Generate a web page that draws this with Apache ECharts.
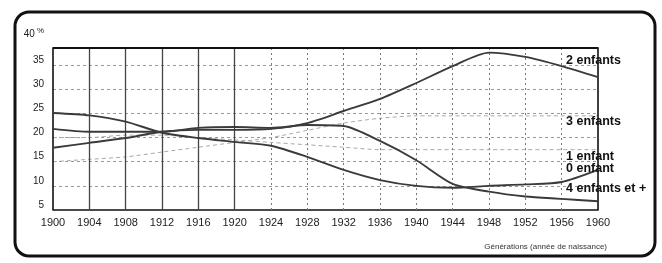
<!DOCTYPE html>
<html><head><meta charset="utf-8">
<script src="https://cdn.jsdelivr.net/npm/echarts@6/dist/echarts.min.js"></script>
<style>html,body{margin:0;padding:0;background:#fff}#c{width:662px;height:263px}</style>
</head><body><div id="c"></div>
<script>
// ---- data ----
const years = [1900,1904,1908,1912,1916,1920,1924,1928,1932,1936,1940,1944,1948,1952,1956,1960];
const zeroChild   = [25.1,24.6,23.3,21.0,19.9,19.1,18.3,16.0,13.3,11.2,10.0,9.6,10.0,10.3,10.8,13.3];
const oneChild    = [20.0,20.0,20.5,20.5,20.0,19.5,19.0,18.5,18.0,17.5,17.5,17.5,17.5,17.5,17.5,17.5];
const twoChildren = [17.9,18.9,19.9,21.2,21.6,21.6,21.8,23.0,25.5,28.0,31.3,34.8,37.6,36.7,34.8,32.5];
const threeChildren = [15.0,15.5,16.0,17.0,18.0,19.0,20.0,21.5,23.0,24.0,24.5,24.5,24.5,24.5,24.5,24.5];
const fourPlus    = [21.8,21.2,21.2,21.2,22.0,22.2,22.0,22.6,22.4,19.3,15.3,10.4,8.8,7.8,7.3,6.8];
const seriesNames = ['0 enfant','1 enfant','2 enfants','3 enfants','4 enfants et +'];
const yTicks = [5,10,15,20,25,30,35,40];
const solidGridYears = [1904,1908,1912,1916,1920];
const dottedGridYears = [1924,1928,1932,1936,1940,1944,1948,1952,1956];
const frameTop = 38.7;
const axisTitle = 'Générations (année de naissance)';

const FONT = 'Liberation Sans, Arial, sans-serif';
const pairs = arr => years.map((y, i) => [y, arr[i]]);

const frameLines = [];
solidGridYears.forEach(y => frameLines.push([{coord:[y,5], lineStyle:{type:'solid', color:'#444', width:1.3}}, {coord:[y,frameTop]}]));
dottedGridYears.forEach(y => frameLines.push([{coord:[y,5], lineStyle:{type:[2,3], color:'#777', width:1}}, {coord:[y,frameTop]}]));
frameLines.push([{coord:[1900,5], lineStyle:{type:'solid', color:'#111', width:1.6}}, {coord:[1900,frameTop]}]);
frameLines.push([{coord:[1960,5], lineStyle:{type:'solid', color:'#111', width:1.6}}, {coord:[1960,frameTop]}]);
frameLines.push([{coord:[1900,frameTop], lineStyle:{type:'solid', color:'#111', width:1.8}}, {coord:[1960,frameTop]}]);

function mk(name, arr, solid, dy) {
  return {
    name, type:'line', data: pairs(arr), smooth: 0.25, symbol:'none',
    lineStyle: solid ? {color:'#3a3a3a', width:1.9} : {color:'#aaa', width:1, type:[4,3]},
    endLabel: {show:true, formatter: name, offset:[-40, dy], color:'#111', fontWeight:'bold', fontSize:12.5, fontFamily:FONT},
    z: solid ? 5 : 3
  };
}

const chart = echarts.init(document.getElementById('c'), null, {renderer:'canvas'});
chart.setOption({
  animation:false,
  backgroundColor:'#fff',
  grid:{left:53, right:64, top:41, bottom:53},
  title:{text:axisTitle, right:50, bottom:7, textStyle:{fontSize:8, fontWeight:'normal', color:'#333', fontFamily:FONT}},
  xAxis:{type:'value', min:1900, max:1960, interval:4,
    axisLine:{show:true, lineStyle:{color:'#111', width:1.6}}, axisTick:{show:false},
    splitLine:{show:false},
    axisLabel:{color:'#222', fontSize:11, fontFamily:FONT, margin:7, formatter: v => String(v)}},
  yAxis:{type:'value', min:5, max:40, interval:5,
    axisLine:{show:false}, axisTick:{show:false},
    splitLine:{show:true, showMaxLine:false, showMinLine:false, lineStyle:{color:'#999', type:[3,3], width:1}},
    axisLabel:{color:'#222', fontSize:10, fontFamily:FONT, margin:9, verticalAlign:'bottom',
      formatter: v => v === 40 ? '{a|40}{p|%}' : String(v),
      rich:{a:{fontSize:10, fontFamily:FONT, color:'#222'}, p:{fontSize:8, fontFamily:FONT, color:'#222', verticalAlign:'top', padding:[0,0,6,2]}}}},
  graphic:[{type:'rect', shape:{x:15, y:12, width:640, height:244, r:14}, style:{fill:'none', stroke:'#111', lineWidth:3}, silent:true}],
  series:[
    mk(seriesNames[0], zeroChild, true, -1),
    mk(seriesNames[1], oneChild, false, 7),
    Object.assign(mk(seriesNames[2], twoChildren, true, -17), {markLine:{silent:true, symbol:['none','none'], label:{show:false}, data: frameLines}}),
    mk(seriesNames[3], threeChildren, false, 6),
    mk(seriesNames[4], fourPlus, true, -13)
  ]
});
</script></body></html>
